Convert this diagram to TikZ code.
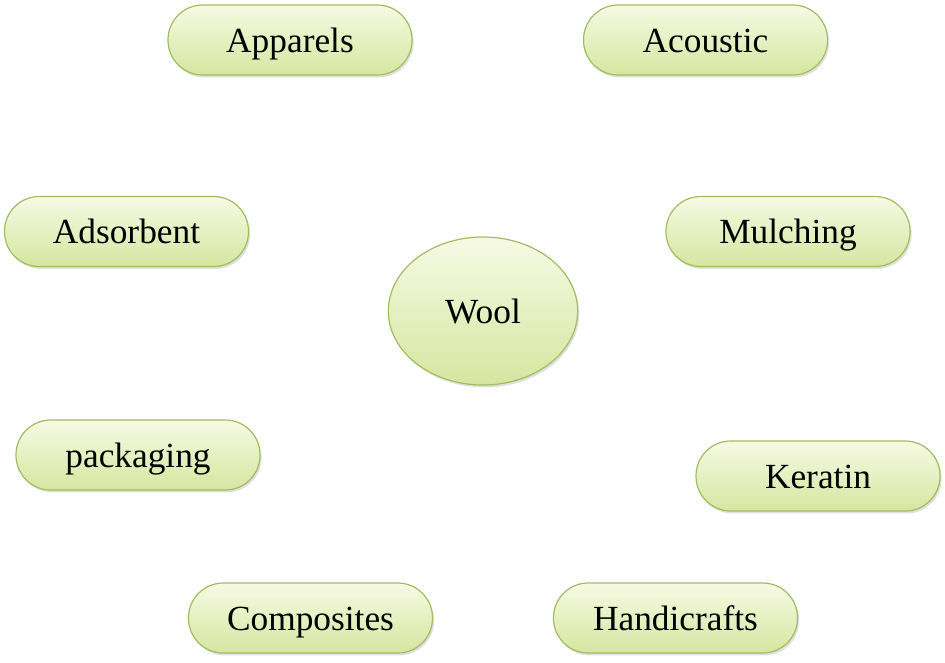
\documentclass[tikz,border=0pt]{standalone}
\usepackage{fontspec}
\setmainfont{Liberation Serif}
\usepackage{xcolor}
\usetikzlibrary{shapes.geometric,shadows}

\definecolor{pilltop}{RGB}{246,250,228}
\definecolor{pillbot}{RGB}{214,230,160}
\definecolor{pillline}{RGB}{160,190,95}

\tikzset{
  pill/.style={draw=pillline, line width=0.9pt, top color=pilltop, bottom color=pillbot,
    rounded corners=26pt, minimum width=183pt, minimum height=52.5pt, inner sep=0pt,
    text height=18pt, text depth=0pt,
    drop shadow={shadow xshift=1.2pt, shadow yshift=-1.8pt, opacity=0.25},
    font=\fontsize{26.5}{30}\selectfont},
  hub/.style={pill, ellipse, rounded corners=0pt, minimum width=142pt, minimum height=111pt}
}

\begin{document}
\begin{tikzpicture}[x=0.75pt, y=-0.75pt]
\useasboundingbox (0,0) rectangle (945,662);
% centre
\node[hub] (wool) at (483, 311) {Wool};
% uses round it
\foreach \nm/\px/\py/\txt in {apparels/290/40/Apparels, acoustic/705.5/40/Acoustic,
    adsorbent/126.5/231.5/Adsorbent, mulching/788/231.5/Mulching,
    packaging/138/455/packaging, keratin/818/476/Keratin,
    composites/310.5/618/Composites, handicrafts/675.5/618/Handicrafts}{
  \node[pill] (\nm) at (\px, \py) {\txt};
}
\end{tikzpicture}
\end{document}
